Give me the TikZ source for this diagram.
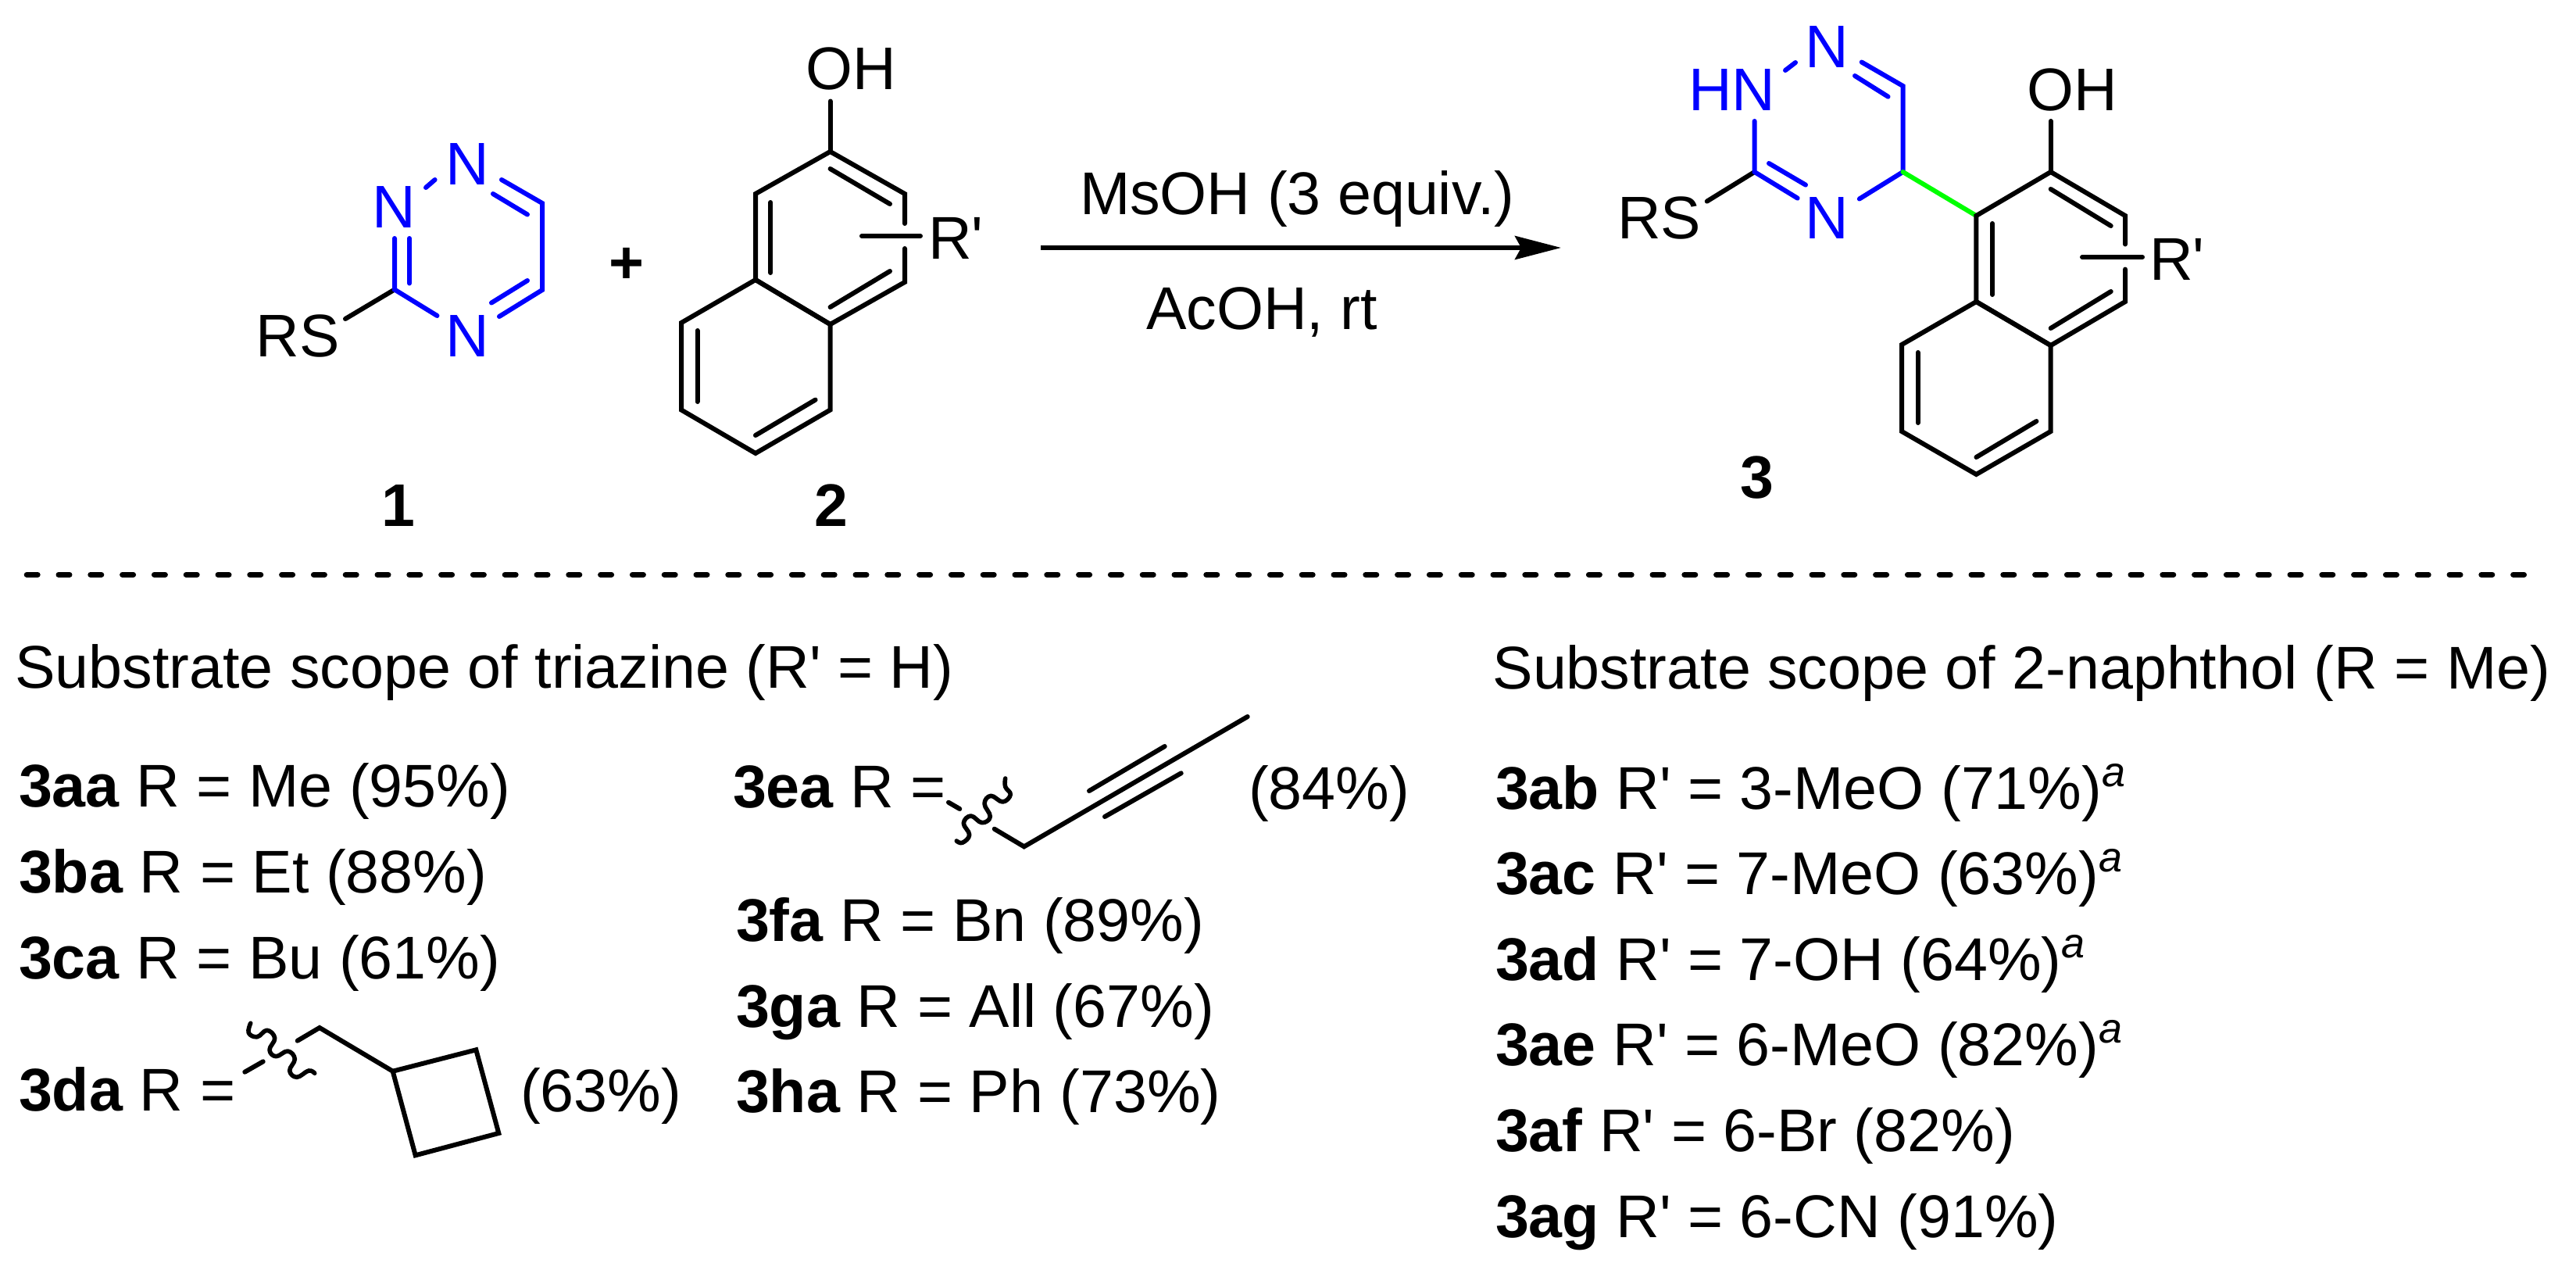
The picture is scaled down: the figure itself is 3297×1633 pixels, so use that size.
\documentclass[tikz,border=0pt]{standalone}
\usepackage{fontspec}
\setmainfont{Liberation Sans}[Ligatures=TeXOff]
\usetikzlibrary{arrows.meta}
\definecolor{molblue}{RGB}{0,0,255}
\definecolor{molgreen}{RGB}{0,255,0}
\tikzset{
  bond/.style={line width=6pt,line cap=round,line join=miter,black},
  bbond/.style={bond,molblue},
  gbond/.style={bond,molgreen},
  wavy/.style={line width=5.6pt,line cap=round,line join=round,black},
  txt/.style={inner sep=0pt,outer sep=0pt,anchor=base west,font=\fontsize{77.2}{90}\selectfont},
  atom/.style={inner sep=0pt,outer sep=0pt,anchor=base,font=\fontsize{77}{90}\selectfont},
  blueatom/.style={atom,text=molblue},
  cmpd/.style={atom,font=\fontsize{77}{90}\selectfont\bfseries},
}
\newcommand{\supa}{\raisebox{28.5pt}{\fontsize{54}{54}\selectfont\textit{a}}}
\begin{document}
\begin{tikzpicture}[x=1pt,y=-1pt]
\useasboundingbox (0,0) rectangle (3297,1633);
% ---------- triazine 1
\coordinate (t3) at (505,370.5);
\coordinate (t5) at (694,371);
\coordinate (t6) at (694,260);
\node[blueatom] (n1a) at (598.4,236.6) {N};
\node[blueatom] (n2a) at (503.8,291.5) {N};
\node[blueatom] (n4a) at (598.4,456.7) {N};
\node[atom] (rsa) at (381,456.7) {RS};
\draw[bond] (t3) -- (442,408);
\draw[bbond] (505,305) -- (t3) -- (559.5,404);
\draw[bbond] (524,305) -- (524,362.5);
\draw[bbond] (545,240) -- (556.6,230);
\draw[bbond] (642,230) -- (t6) -- (t5) -- (639,405);
\draw[bbond] (631,248) -- (675,274.5);
\draw[bbond] (629,387.5) -- (675,359);
\node[cmpd] (lab1) at (510,673) {1};
\node[cmpd] (plus) at (801.5,362) {+};
% ---------- naphthol 2
\coordinate (a2) at (1062.6,194);
\coordinate (a3) at (1158,248);
\coordinate (a4) at (1158,361);
\coordinate (a4a) at (1062.6,415);
\coordinate (a8a) at (967,358);
\coordinate (a1) at (967,248);
\coordinate (a8) at (872,413);
\coordinate (a7) at (872,524.5);
\coordinate (a6) at (967,580);
\coordinate (a5) at (1062.6,524.5);
\node[atom] (oha) at (1089,114.7) {OH};
\node[txt] (rpa) at (1188,331.7) {R'};
\draw[bond] (a2) -- (1062.6,129.5);
\draw[bond] (1158,286) -- (a3) -- (a2) -- (a1) -- (a8a) -- (a4a) -- (a4) -- (1158,318);
\draw[bond] (a8a) -- (a8) -- (a7) -- (a6) -- (a5) -- (a4a) -- cycle;
\draw[bond] (1062.6,216) -- (1139,261);
\draw[bond] (986.3,259) -- (986.3,349);
\draw[bond] (1062.6,393) -- (1139,347);
\draw[bond] (892.5,423) -- (892.5,514);
\draw[bond] (967,557) -- (1043.6,511.6);
\draw[bond] (1103,302) -- (1178,302);
\node[cmpd] (lab2) at (1064,673) {2};
% ---------- arrow
\coordinate (arrs) at (1332,317);
\coordinate (arre) at (1998,317);
\draw[line width=6pt,-{Stealth[length=59pt,width=30pt,inset=8pt]}] (arrs) -- (arre);
\node[txt] (cond1) at (1382,274) {MsOH (3 equiv.)};
\node[txt] (cond2) at (1467,421.7) {AcOH, rt};
% ---------- product 3
\coordinate (p3) at (2245.6,220);
\coordinate (p5) at (2435.5,220);
\coordinate (p6) at (2435.5,110);
\coordinate (b1) at (2529.4,276);
\coordinate (b2) at (2624.7,220);
\coordinate (b3) at (2720,276);
\coordinate (b4) at (2720,386);
\coordinate (b4a) at (2624.7,442);
\coordinate (b8a) at (2529.4,386);
\coordinate (b8) at (2434,441);
\coordinate (b7) at (2434,552);
\coordinate (b6) at (2529.4,607);
\coordinate (b5) at (2624.7,552);
\node[blueatom] (pn1) at (2338.7,86) {N};
\node[blueatom] (pn2) at (2216.6,141) {HN};
\node[blueatom] (pn4) at (2338.7,305) {N};
\node[atom] (prs) at (2123.7,305) {RS};
\node[atom] (poh) at (2652,141) {OH};
\node[txt] (prp) at (2751,358) {R'};
\draw[bond] (p3) -- (2184.7,257.6);
\draw[bbond] (2245.6,155) -- (p3) -- (2300.6,253.6);
\draw[bbond] (2264,209) -- (2311,236.6);
\draw[bbond] (2285,90) -- (2298,80);
\draw[bbond] (2382.7,79.5) -- (p6) -- (p5) -- (2379.8,254.5);
\draw[bbond] (2374,97) -- (2416.5,123.7);
\draw[gbond] (p5) -- (b1);
\draw[bond] (b2) -- (2624.7,155);
\draw[bond] (2720,312.5) -- (b3) -- (b2) -- (b1) -- (b8a) -- (b4a) -- (b4) -- (2720,344.6);
\draw[bond] (b8a) -- (b8) -- (b7) -- (b6) -- (b5) -- (b4a) -- cycle;
\draw[bond] (2624.7,242) -- (2701.7,289);
\draw[bond] (2550,286) -- (2550,377);
\draw[bond] (2624.7,420) -- (2701.7,373);
\draw[bond] (2454.6,451) -- (2454.6,541);
\draw[bond] (2529.4,585) -- (2606.4,539);
\draw[bond] (2665,329) -- (2742,329);
\node[cmpd] (lab3) at (2248.5,637.5) {3};
% ---------- dashed rule
\coordinate (rules) at (34.2,735.3);
\coordinate (rulee) at (3230.5,735.3);
\draw[line width=7pt,line cap=round,dash pattern=on 14pt off 26.8pt] (rules) -- (rulee);
% ---------- headers
\node[txt] (hl) at (19.5,880) {Substrate scope of triazine (R' = H)};
\node[txt] (hr) at (1910.5,881.7) {Substrate scope of 2-naphthol (R = Me)};
% ---------- column 1
\node[txt] (aa) at (24,1032) {\textbf{3aa} R = Me (95\%)};
\node[txt] (ba) at (24,1142.5) {\textbf{3ba} R = Et (88\%)};
\node[txt] (ca) at (24,1252) {\textbf{3ca} R = Bu (61\%)};
\node[txt] (da) at (24,1421) {\textbf{3da} R =};
\node[txt] (dy) at (666,1422) {(63\%)};
\draw[bond] (313.3,1371.7) -- (336.7,1358.3);
\draw[wavy] plot[smooth,tension=.7] coordinates {(320.7,1309.3) (318.3,1321.7) (329.3,1326.7) (341.7,1318.3) (351.7,1328.3) (345,1343.3) (353.3,1351.7) (368.3,1345) (377.3,1355) (370.7,1370) (380,1378.3) (395,1370) (402.7,1373.3)};
\coordinate (dc) at (502.7,1370.7);
\draw[bond] (380.7,1331.7) -- (409,1315) -- (dc);
\draw[bond] (dc) -- (609.3,1343.3) -- (638.3,1450) -- (531.7,1478.3) -- cycle;
% ---------- column 2
\node[txt] (ea) at (938,1033) {\textbf{3ea} R =};
\node[txt] (ey) at (1598,1035) {(84\%)};
\draw[bond] (1214,1026.7) -- (1228.3,1035);
\draw[wavy] plot[smooth,tension=.7] coordinates {(1286.7,996) (1286.7,1006.7) (1293.3,1016.7) (1283.3,1026) (1268.3,1018.3) (1260,1028.3) (1267.3,1045) (1256.7,1052.7) (1242.7,1044) (1233.3,1053.3) (1240.7,1068.3) (1231.7,1078.3) (1224.3,1076)};
\coordinate (ec) at (1310.7,1083.3);
\draw[bond] (1272.7,1060.7) -- (ec) -- (1596.7,917);
\draw[bond] (1394,1012) -- (1490.7,955);
\draw[bond] (1414,1045) -- (1511.7,989.3);
\node[txt] (fa) at (942,1204) {\textbf{3fa} R = Bn (89\%)};
\node[txt] (ga) at (942,1314.6) {\textbf{3ga} R = All (67\%)};
\node[txt] (ha) at (942,1423.5) {\textbf{3ha} R = Ph (73\%)};
% ---------- column 3
\node[txt] (ab) at (1914,1035) {\textbf{3ab} R' = 3-MeO (71\%)\supa};
\node[txt] (ac) at (1914,1144.3) {\textbf{3ac} R' = 7-MeO (63\%)\supa};
\node[txt] (ad) at (1914,1254) {\textbf{3ad} R' = 7-OH (64\%)\supa};
\node[txt] (ae) at (1914,1363.3) {\textbf{3ae} R' = 6-MeO (82\%)\supa};
\node[txt] (af) at (1914,1473.3) {\textbf{3af} R' = 6-Br (82\%)};
\node[txt] (ag) at (1914,1583.3) {\textbf{3ag} R' = 6-CN (91\%)};
\end{tikzpicture}
\end{document}
